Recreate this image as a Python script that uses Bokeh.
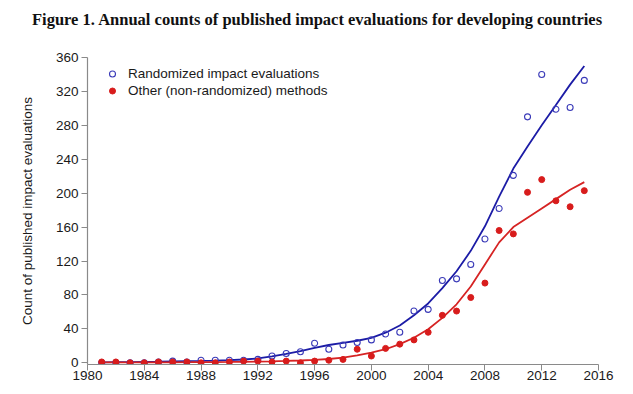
from bokeh.plotting import figure
from bokeh.layouts import column
from bokeh.models import ColumnDataSource, FixedTicker, Legend, LegendItem, Range1d, Div
from bokeh.embed import file_html
from bokeh.resources import INLINE

# ---- data ----
years = [1981, 1982, 1983, 1984, 1985, 1986, 1987, 1988, 1989, 1990,
         1991, 1992, 1993, 1994, 1995, 1996, 1997, 1998, 1999, 2000,
         2001, 2002, 2003, 2004, 2005, 2006, 2007, 2008, 2009, 2010,
         2011, 2012, 2013, 2014, 2015]

randomized = [0, 0, 0, 0, 1, 2, 1, 3, 3, 3,
              3, 4, 8, 11, 13, 23, 16, 21, 24, 27,
              34, 36, 61, 63, 97, 99, 116, 146, 182, 221,
              290, 340, 299, 301, 333]

other = [1, 1, 0, 0, 1, 1, 1, 0, 0, 1,
         2, 2, 1, 2, 0, 2, 3, 4, 16, 8,
         17, 22, 27, 36, 56, 61, 77, 94, 156, 152,
         201, 216, 191, 184, 203]

randomized_fit = [0.5, 0.7, 0.9, 1.1, 1.3, 1.6, 1.9, 2.2, 2.6, 3.1,
                  3.9, 5.2, 7.5, 10.5, 13.8, 17.5, 21, 23.5, 26, 29.5,
                  35.5, 44, 56, 70, 88, 108, 132, 161, 196, 229,
                  255, 280, 304, 328, 350]

other_fit = [0.5, 0.5, 0.5, 0.5, 0.5, 0.6, 0.7, 0.8, 0.9, 1.0,
             1.2, 1.5, 1.8, 2.2, 2.7, 3.4, 4.5, 6, 8.8, 12,
             16, 22, 29.5, 39.5, 53, 69, 90, 116, 142, 160,
             171, 182, 193, 204, 213]

x_ticks = [1980, 1984, 1988, 1992, 1996, 2000, 2004, 2008, 2012, 2016]
y_ticks = [0, 40, 80, 120, 160, 200, 240, 280, 320, 360]

title_text = "Figure 1. Annual counts of published impact evaluations for developing countries"
y_label = "Count of published impact evaluations"
legend_labels = ["Randomized impact evaluations", "Other (non-randomized) methods"]

BLUE_LINE = "#1c1ca6"
BLUE_PT = "#3a3ab8"
RED_LINE = "#d62424"
RED_PT = "#d81c1c"
AXIS_GRAY = "#8a8a8a"
TXT = "#1a1a1a"
FONT = "Liberation Sans"

src = ColumnDataSource(dict(year=years, rnd=randomized, oth=other,
                            rnd_fit=randomized_fit, oth_fit=other_fit))

title_div = Div(text=title_text, width=625, height=40, margin=(0, 0, 0, 0),
                styles={"font-family": "Liberation Serif", "font-weight": "bold",
                        "font-size": "16.5px", "line-height": "20px",
                        "color": "#111111", "padding-top": "10px",
                        "padding-left": "32px", "white-space": "nowrap",
                        "box-sizing": "border-box"})

p = figure(width=625, height=346, output_backend="svg", toolbar_location=None,
           x_range=Range1d(1980, 2016), y_range=Range1d(-2, 360),
           min_border_left=87, min_border_right=27, min_border_top=17,
           min_border_bottom=22, margin=(0, 0, 0, 0))
p.outline_line_color = None
p.xgrid.visible = False
p.ygrid.visible = False
p.background_fill_color = "white"
p.border_fill_color = "white"

r_line_b = p.line("year", "rnd_fit", source=src, line_color=BLUE_LINE, line_width=1.8)
r_line_r = p.line("year", "oth_fit", source=src, line_color=RED_LINE, line_width=1.8)
r_b = p.scatter("year", "rnd", source=src, marker="circle", size=6,
                fill_color=None, line_color=BLUE_PT, line_width=1.1)
r_r = p.scatter("year", "oth", source=src, marker="circle", size=6,
                fill_color=RED_PT, line_color=RED_PT, line_width=1)

for ax in (p.xaxis[0], p.yaxis[0]):
    ax.axis_line_color = AXIS_GRAY
    ax.axis_line_width = 1.2
    ax.major_tick_line_color = AXIS_GRAY
    ax.major_tick_line_width = 1
    ax.major_tick_out = 6
    ax.major_tick_in = 0
    ax.minor_tick_line_color = None
    ax.major_label_text_font = FONT
    ax.major_label_text_font_size = "13.5px"
    ax.major_label_text_color = TXT

p.xaxis.ticker = FixedTicker(ticks=x_ticks)
p.yaxis.ticker = FixedTicker(ticks=y_ticks)
p.xaxis.major_label_standoff = 0
p.yaxis.major_label_standoff = 3

p.yaxis.axis_label = y_label
p.yaxis.axis_label_text_font = FONT
p.yaxis.axis_label_text_font_size = "13.5px"
p.yaxis.axis_label_text_font_style = "normal"
p.yaxis.axis_label_text_color = TXT
p.yaxis.axis_label_standoff = 18

legend = Legend(items=[LegendItem(label=legend_labels[0], renderers=[r_b]),
                       LegendItem(label=legend_labels[1], renderers=[r_r])],
                location=(15, 266), padding=4, spacing=1,
                glyph_width=20, glyph_height=15, label_height=16,
                label_standoff=6, border_line_color=None,
                background_fill_alpha=0,
                label_text_font=FONT, label_text_font_size="13.5px",
                label_text_color=TXT)
p.add_layout(legend, "center")

layout = column(title_div, p, spacing=0)
open("out.html", "w").write(file_html(layout, INLINE))
